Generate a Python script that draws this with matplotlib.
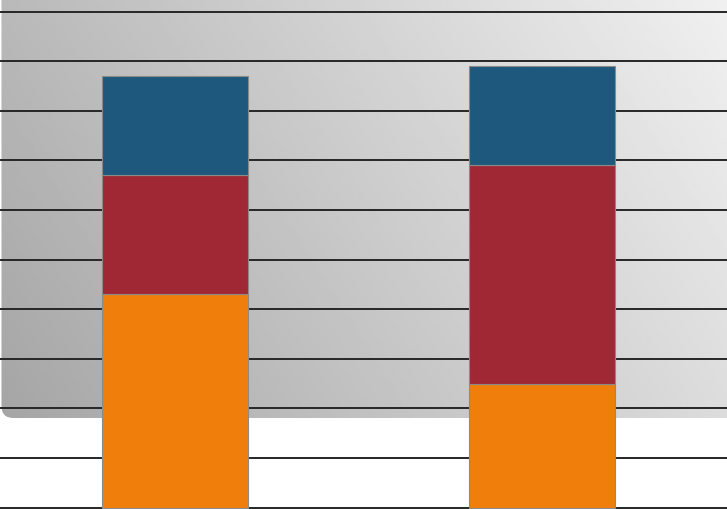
import numpy as np
import matplotlib.pyplot as plt
from matplotlib.patches import FancyBboxPatch

categories = ["Category 1", "Category 2"]
series1 = [4.3, 2.5]
series2 = [2.4, 4.4]
series3 = [2.0, 2.0]
colors = ["#ef7f0a", "#a02835", "#1e597d"]

fig = plt.figure(figsize=(7.27, 5.09), dpi=100)

# background panel with diagonal gradient (pixel coordinates)
bg = fig.add_axes([0, 0, 1, 1])
bg.set_xlim(0, 727)
bg.set_ylim(509, 0)
bg.axis("off")
yy, xx = np.mgrid[0:1:200j, 0:1:300j]
grad = (165 + 55 * xx + 20 * (1 - yy)) / 255
img = bg.imshow(grad, cmap="gray", vmin=0, vmax=1, extent=(0, 727, 418, 0),
                aspect="auto", interpolation="bilinear")
panel = FancyBboxPatch((1.5, -40), 760, 458, boxstyle="round,pad=0,rounding_size=12",
                       facecolor="none", edgecolor="none")
bg.add_patch(panel)
img.set_clip_path(panel)

ax = fig.add_axes([0, 0, 1, 1])
ax.patch.set_alpha(0)
x = np.arange(len(categories))
w = 0.4
b2 = np.array(series1)
b3 = b2 + np.array(series2)
ax.bar(x, series1, w, color=colors[0], edgecolor="#8a8a8a", linewidth=0.8, zorder=3)
ax.bar(x, series2, w, bottom=b2, color=colors[1], edgecolor="#8a8a8a", linewidth=0.8, zorder=3)
ax.bar(x, series3, w, bottom=b3, color=colors[2], edgecolor="#8a8a8a", linewidth=0.8, zorder=3)

ax.set_xlim(-175 / 367, 552 / 367)
ax.set_ylim(-1.5 / 49.6, 507.5 / 49.6)
ax.set_yticks(range(11))
ax.yaxis.grid(True, color="#262626", linewidth=1.4)
ax.set_axisbelow(True)
ax.tick_params(length=0, labelleft=False, labelbottom=False)
for s in ax.spines.values():
    s.set_visible(False)

fig.savefig("out.png", dpi=100)
